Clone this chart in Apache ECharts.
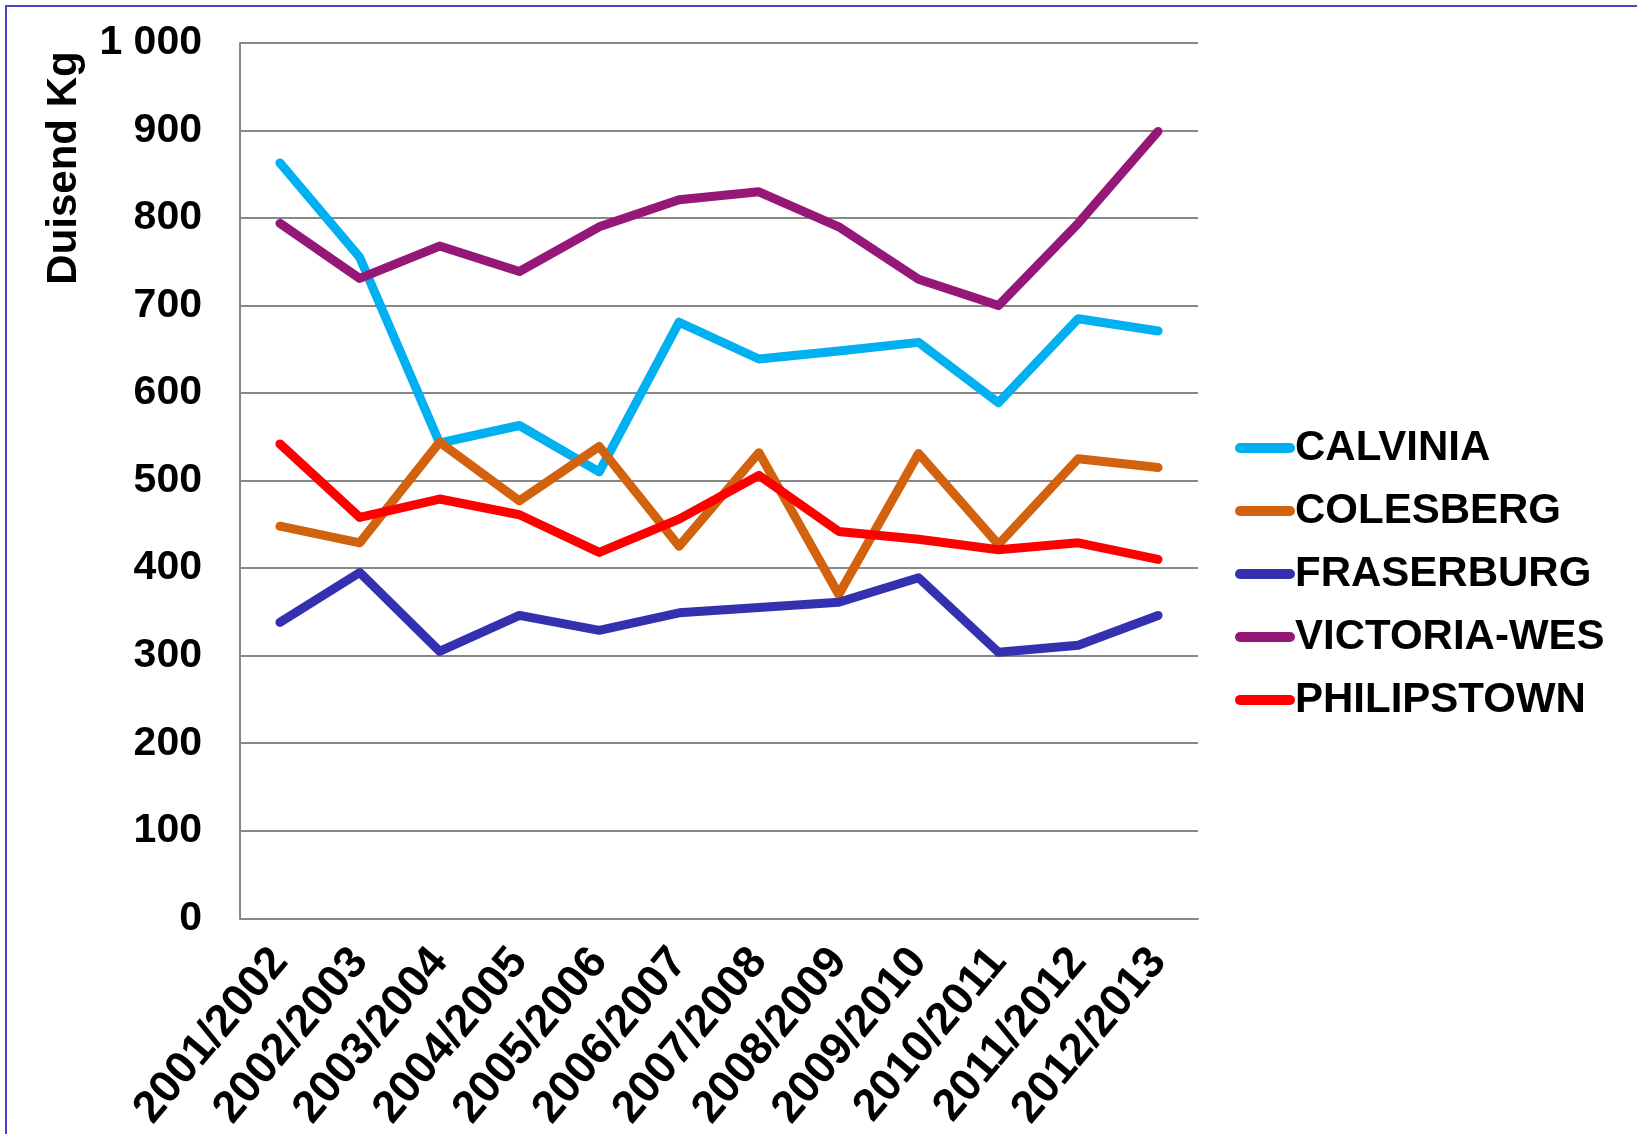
<!DOCTYPE html>
<html>
<head>
<meta charset="utf-8">
<script src="https://cdn.jsdelivr.net/npm/echarts@6/dist/echarts.min.js"></script>
<style>
html,body{margin:0;padding:0;background:#fff;overflow:hidden;}
#frame{position:absolute;left:5px;top:5px;width:1700px;height:1200px;border:2px solid #4646c8;box-sizing:border-box;}
#chart{position:absolute;left:0;top:0;width:1637px;height:1134px;}
</style>
</head>
<body>
<div id="frame"></div>
<div id="chart"></div>
<script>
const categories = ['2001/2002','2002/2003','2003/2004','2004/2005','2005/2006','2006/2007','2007/2008','2008/2009','2009/2010','2010/2011','2011/2012','2012/2013'];
const calvinia    = [863, 755, 543, 563, 510, 681, 639, 648, 658, 589, 685, 671];
const colesberg   = [448, 429, 544, 477, 539, 425, 532, 370, 531, 427, 525, 515];
const fraserburg  = [338, 395, 305, 346, 329, 349, 355, 361, 389, 304, 312, 346];
const victoriaWes = [794, 731, 768, 739, 790, 821, 830, 790, 730, 700, 794, 899];
const philipstown = [542, 458, 479, 461, 418, 456, 506, 442, 433, 421, 429, 410];
const yTicks = {min: 0, max: 1000, interval: 100};
const seriesNames = ['CALVINIA','COLESBERG','FRASERBURG','VICTORIA-WES','PHILIPSTOWN'];
const seriesData = [calvinia, colesberg, fraserburg, victoriaWes, philipstown];
const colors = ['#00B0F0','#D2620E','#3431B0','#951878','#FF0000'];

const font = "'Liberation Sans', Arial, sans-serif";
const chart = echarts.init(document.getElementById('chart'));
chart.setOption({
  animation: false,
  grid: {left: 240, top: 43, right: 439, bottom: 214, containLabel: false},
  xAxis: {
    type: 'category',
    data: categories,
    boundaryGap: true,
    axisLine: {lineStyle: {color: '#888', width: 2}},
    axisTick: {show: false},
    axisLabel: {rotate: 50, color: '#000', fontFamily: font, fontWeight: 'bold', fontSize: 45, margin: 36, interval: 0}
  },
  yAxis: {
    type: 'value',
    min: yTicks.min, max: yTicks.max, interval: yTicks.interval,
    axisLine: {show: true, lineStyle: {color: '#888', width: 2}},
    axisTick: {show: false},
    splitLine: {lineStyle: {color: '#888', width: 2}},
    axisLabel: {
      color: '#000', fontFamily: font, fontWeight: 'bold', fontSize: 41, margin: 38,
      formatter: v => v >= 1000 ? (Math.floor(v/1000) + ' ' + String(v%1000).padStart(3,'0')) : String(v)
    }
  },
  legend: {
    orient: 'vertical',
    left: 1230, top: 421,
    itemWidth: 60, itemHeight: 10, itemGap: 19,
    icon: 'path://M5,0 H55 A5,5 0 0 1 55,10 H5 A5,5 0 0 1 5,0 Z',
    textStyle: {color: '#000', fontFamily: font, fontWeight: 'bold', fontSize: 42, lineHeight: 44, padding: [0,0,0,-5]},
    data: seriesNames
  },
  graphic: [{
    type: 'text', x: 64, y: 168, rotation: Math.PI/2,
    style: {text: 'Duisend Kg', fill: '#000', font: "bold 42px 'Liberation Sans', Arial, sans-serif", textAlign: 'center', textVerticalAlign: 'middle'}
  }],
  series: seriesNames.map((n, i) => ({
    name: n, type: 'line', data: seriesData[i],
    symbol: 'none', showSymbol: false,
    color: colors[i],
    lineStyle: {color: colors[i], width: 9, cap: 'round', join: 'round'},
    itemStyle: {color: colors[i]}
  }))
});
</script>
</body>
</html>
